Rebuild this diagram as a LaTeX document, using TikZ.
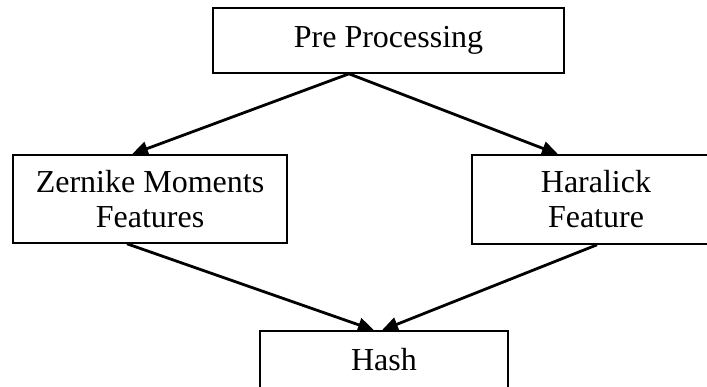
\documentclass[tikz,border=0pt]{standalone}
\usepackage{fontspec}
\setmainfont{Liberation Serif}
\usepackage{tikz}
\usetikzlibrary{arrows.meta}

\begin{document}
\begin{tikzpicture}[
   x=1pt, y=-1pt,
   stagebox/.style={rectangle, draw=black, fill=white, line width=1.6, text=black,
                    inner sep=0, align=center,
                    font=\fontsize{32}{35}\selectfont},
   flow/.style={-{Triangle[length=16, width=14]}, line width=2.8, color=black}
  ]

  \useasboundingbox (0, 0) rectangle (707, 387);

  % Boxes, sized in pixels
  \node (pre) at (388.5, 40.5) [stagebox, minimum width=351, minimum height=65] {Pre Processing};

  \node (zern) at (150, 199) [stagebox, minimum width=274, minimum height=88] {Zernike Moments\\Features};

  \node (hara) at (596, 199.5) [stagebox, minimum width=248, minimum height=89] {Haralick\\Feature};

  \node (hash) at (384, 360) [stagebox, minimum width=248, minimum height=58] {Hash};

  % Arrows between the boxes
  \foreach \B/\bs/\E/\es in {pre/-39.5/zern/-18, pre/-39.5/hara/-38,
                             zern/-23/hash/-10, hara/1/hash/-2} {
    \draw[flow] ([xshift=\bs]\B.south) -- ([xshift=\es]\E.north);
  }

\end{tikzpicture}
\end{document}
